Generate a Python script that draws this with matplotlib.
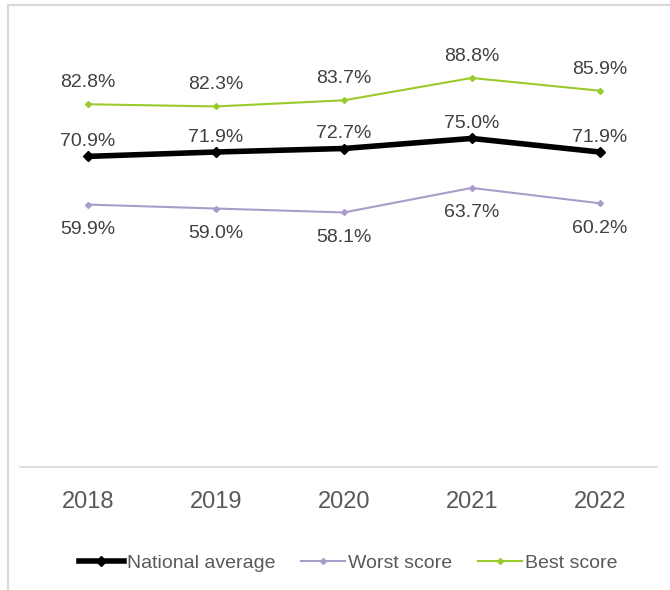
import matplotlib.pyplot as plt
from matplotlib.patches import Rectangle

plt.rcParams['font.family'] = ['Liberation Sans', 'DejaVu Sans']

years = ['2018', '2019', '2020', '2021', '2022']
national = [70.9, 71.9, 72.7, 75.0, 71.9]
worst = [59.9, 59.0, 58.1, 63.7, 60.2]
best = [82.8, 82.3, 83.7, 88.8, 85.9]

fig = plt.figure(figsize=(6.7, 5.9), dpi=100)
ax = fig.add_axes([0.03, 0.2085, 0.95, 0.7425])

x = range(len(years))
ax.plot(x, national, color='black', lw=4, marker='D', ms=5, label='National average', zorder=3)
ax.plot(x, worst, color='#a99cc9', lw=1.5, marker='D', ms=3, label='Worst score')
ax.plot(x, best, color='#9acb2d', lw=1.5, marker='D', ms=3, label='Best score')

# data labels
for xi, v in zip(x, best):
    ax.annotate(f'{v:.1f}%', (xi, v), xytext=(0, 15.5), textcoords='offset points',
                ha='center', va='center', fontsize=14, color='#404040')
for xi, v in zip(x, national):
    ax.annotate(f'{v:.1f}%', (xi, v), xytext=(0, 10.5), textcoords='offset points',
                ha='center', va='center', fontsize=14, color='#404040')
for xi, v in zip(x, worst):
    ax.annotate(f'{v:.1f}%', (xi, v), xytext=(0, -18), textcoords='offset points',
                ha='center', va='center', fontsize=14, color='#404040')

ax.set_xlim(-0.53, 4.445)
ax.set_ylim(0, 100)
ax.set_xticks(list(x))
ax.set_xticklabels(years, fontsize=17, color='#595959')
ax.set_yticks([])
ax.tick_params(axis='x', length=0, pad=17)
for side in ['top', 'right', 'left']:
    ax.spines[side].set_visible(False)
ax.spines['bottom'].set_color('#d9d9d9')
ax.spines['bottom'].set_linewidth(1.2)

fig.legend(loc='center', bbox_to_anchor=(0.52, 0.046), ncol=3, frameon=False,
           fontsize=14, handlelength=2.3, handletextpad=0.15, columnspacing=1.3,
           labelcolor='#595959')

# light frame around the chart
fig.patches.append(Rectangle((8 / 670, -0.02), 1.1, 1 - 5 / 590 + 0.02, transform=fig.transFigure,
                             fill=False, edgecolor='#d9d9d9', lw=1.5))

fig.savefig('out.png', dpi=100)
